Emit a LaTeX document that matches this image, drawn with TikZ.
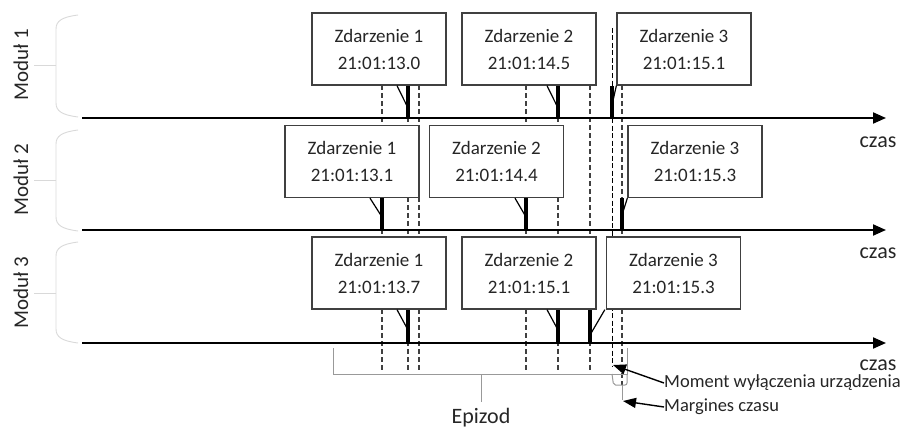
\documentclass[tikz,border=0pt]{standalone}
\usepackage{fontspec}
\setmainfont{Carlito}
\usetikzlibrary{arrows.meta}
\begin{document}
\begin{tikzpicture}[x=1pt,y=-1pt,
  evbox/.style={draw=black!75,line width=1.3pt,fill=white,minimum width=134pt,
    minimum height=72pt,inner sep=0pt,align=center,
    font=\fontsize{19}{27}\selectfont,text=black!85},
  timeaxis/.style={line width=2pt,-{Triangle[length=13pt,width=11pt]}},
  proj/.style={draw=black!75,line width=1.1pt,dash pattern=on 5pt off 3pt},
  offline/.style={draw=black,line width=1pt,dash pattern=on 5pt off 2.5pt},
  evtick/.style={line width=4pt},
  pointer/.style={line width=1.2pt},
  guide/.style={draw=black!40,line width=1pt},
  modbrace/.style={draw=black!15,line width=0.9pt},
  lbl/.style={font=\fontsize{22}{22}\selectfont,text=black!85},
  modlbl/.style={font=\fontsize{21}{21}\selectfont,text=black!85,rotate=90},
  note/.style={font=\fontsize{18.5}{18.5}\selectfont,text=black!85,anchor=west,inner sep=0pt},
  callout/.style={line width=1.4pt,-{Triangle[length=13pt,width=10pt]}}
]
\useasboundingbox (0,0) rectangle (907,428);

% module braces and labels
\foreach \t/\b/\m/\k in {15/117/65/1,130/231/180/2,242/343/293/3}{
  \draw[modbrace] (78,\t) .. controls (62,\t+2) and (56,\t+6) .. (56,\t+14)
    -- (56,\b-14) .. controls (56,\b-6) and (62,\b-2) .. (78,\b);
  \draw[modbrace] (56,\m) -- (34,\m);
  \node[modlbl] (mod\k) at (21,\m) {Moduł \k};
}

% projections of event times across all modules
\foreach \x in {382,408,419,526,558,590}{
  \draw[proj] (\x,85) -- (\x,370);
}
\draw[proj] (622,85) -- (622,385);
\coordinate (moff) at (613,365);
\draw[offline] (612,28) -- (612,366);

% time axes
\coordinate (a1s) at (82,118);  \coordinate (a1e) at (886,118);
\coordinate (a2s) at (82,230);  \coordinate (a2e) at (886,230);
\coordinate (a3s) at (82,343);  \coordinate (a3e) at (886,343);
\draw[timeaxis] (a1s) -- (a1e);
\draw[timeaxis] (a2s) -- (a2e);
\draw[timeaxis] (a3s) -- (a3e);
\node[lbl] (cz1) at (878,142) {czas};
\node[lbl] (cz2) at (878,253) {czas};
\node[lbl] (cz3) at (878,365) {czas};

% event boxes
\node[evbox] (b11) at (379,49)    {Zdarzenie 1\\21:01:13.0};
\node[evbox] (b12) at (529,49)    {Zdarzenie 2\\21:01:14.5};
\node[evbox] (b13) at (684,49)    {Zdarzenie 3\\21:01:15.1};
\node[evbox] (b21) at (352,161.5) {Zdarzenie 1\\21:01:13.1};
\node[evbox] (b22) at (496.5,161.5) {Zdarzenie 2\\21:01:14.4};
\node[evbox] (b23) at (695,161.5) {Zdarzenie 3\\21:01:15.3};
\node[evbox] (b31) at (379,273)   {Zdarzenie 1\\21:01:13.7};
\node[evbox] (b32) at (529,273)   {Zdarzenie 2\\21:01:15.1};
\node[evbox] (b33) at (673.5,273) {Zdarzenie 3\\21:01:15.3};

% event instants on the axes
\coordinate (e11) at (408,118); \coordinate (e12) at (558,118); \coordinate (e13) at (612,118);
\coordinate (e21) at (382,230); \coordinate (e22) at (526,230); \coordinate (e23) at (622,230);
\coordinate (e31) at (408,343); \coordinate (e32) at (558,343); \coordinate (e33) at (590,343);

\draw[evtick] (e11) -- (e11 |- b11.south);
\draw[evtick] (e12) -- (e12 |- b12.south);
\draw[evtick] (e13) -- (e13 |- b13.south);
\draw[evtick] (e21) -- (e21 |- b21.south);
\draw[evtick] (e22) -- (e22 |- b22.south);
\draw[evtick] (e23) -- (e23 |- b23.south);
\draw[evtick] (e31) -- (e31 |- b31.south);
\draw[evtick] (e32) -- (e32 |- b32.south);
\draw[evtick] (e33) -- (e33 |- b33.south);

\draw[pointer] ([xshift=18pt]b11.south) -- ([yshift=10pt]e11);
\draw[pointer] ([xshift=18pt]b12.south) -- ([yshift=10pt]e12);
\draw[pointer] (b13.south west) -- ([yshift=13pt]e13);
\draw[pointer] ([xshift=18pt]b21.south) -- ([yshift=13pt]e21);
\draw[pointer] ([xshift=18.5pt]b22.south) -- ([yshift=13pt]e22);
\draw[pointer] (b23.south west) -- ([yshift=15pt]e23);
\draw[pointer] ([xshift=18pt]b31.south) -- ([yshift=13pt]e31);
\draw[pointer] ([xshift=18pt]b32.south) -- ([yshift=13pt]e32);
\draw[pointer] ([xshift=-1pt]b33.south west) -- ([yshift=8pt]e33);

% episode bracket and time margin
\draw[guide] (333,348) |- (627,374) -- (627,348);
\draw[guide] (481,374) -- (481,402);
\node[lbl] (epi) at (481,418) {Epizod};
\draw[guide,rounded corners=2pt] (612,374) -- (613.5,385) -- (627,385) -- (627,374);
\draw[guide] (622,385) -- (622,400);
\coordinate (mgn) at (623,401);

% annotations
\node[note] (mtxt) at (664,383) {Moment wyłączenia urządzenia};
\node[note] (gtxt) at (664,407) {Margines czasu};
\draw[callout] (mtxt.west) -- (moff);
\draw[callout] (gtxt.west) -- (mgn);
\end{tikzpicture}
\end{document}
